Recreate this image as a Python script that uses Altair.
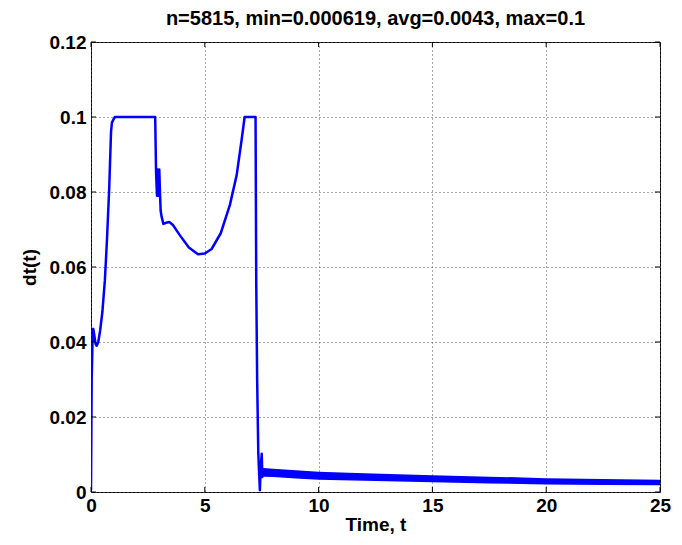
import altair as alt
import pandas as pd

# ---- data ----
t_main = [0.0, 0.03, 0.07, 0.10, 0.14, 0.20, 0.25, 0.32, 0.40, 0.50, 0.61, 0.70, 0.80, 0.88, 0.92, 1.00, 1.05,
          2.82, 2.86, 2.90, 2.93, 2.96, 3.00, 3.03, 3.06, 3.10, 3.18, 3.30, 3.44, 3.60, 3.90, 4.30, 4.70,
          5.00, 5.30, 5.70, 6.10, 6.40, 6.62, 6.75,
          7.23, 7.26, 7.30, 7.35, 7.38, 7.42, 7.45, 7.50, 7.53, 7.56]
dt_main = [0.0005, 0.030, 0.041, 0.0435, 0.042, 0.0395, 0.039, 0.040, 0.043, 0.048, 0.0565, 0.067, 0.081, 0.096, 0.0985, 0.0995, 0.100,
           0.100, 0.085, 0.079, 0.086, 0.079, 0.086, 0.080, 0.075, 0.0735, 0.0715, 0.0718, 0.072, 0.0712, 0.0685, 0.0652, 0.0634,
           0.0636, 0.0648, 0.069, 0.0765, 0.0845, 0.094, 0.100,
           0.100, 0.056, 0.030, 0.0104, 0.006, 0.0005, 0.006, 0.0102, 0.004, 0.0062]

tail_t = [7.56, 8.0, 9.0, 10.0, 12.0, 15.0, 17.5, 20.0, 22.5, 25.0]
tail_hi = [0.0064, 0.0062, 0.0058, 0.0054, 0.0050, 0.0045, 0.0041, 0.0037, 0.0035, 0.0033]
tail_lo = [0.0041, 0.0040, 0.0036, 0.0033, 0.0030, 0.0026, 0.0023, 0.0020, 0.0019, 0.0018]

x_ticks = [0, 5, 10, 15, 20, 25]
y_ticks = [0, 0.02, 0.04, 0.06, 0.08, 0.10, 0.12]

title_text = "n=5815, min=0.000619, avg=0.0043, max=0.1"
x_title = "Time, t"
y_title = "dt(t)"

# ---- chart ----
W, H = 569, 450
FONT = "Liberation Sans"
BLUE = "#0000ff"
TICK = 5

main_df = pd.DataFrame({"t": t_main, "dt": dt_main})
tail_df = pd.DataFrame({"t": tail_t, "hi": tail_hi, "lo": tail_lo})
xt_df = pd.DataFrame({"v": x_ticks})
yt_df = pd.DataFrame({"v": y_ticks})

xscale = alt.Scale(domain=[0, 25], nice=False, zero=False)
yscale = alt.Scale(domain=[0, 0.12], nice=False, zero=False)

xaxis = alt.Axis(values=x_ticks, format="d", title=x_title, grid=True, gridDash=[1, 3],
                 gridColor="#555555", gridWidth=1, ticks=False, domain=False,
                 labelFlush=False, labelPadding=4, titlePadding=0)
yaxis = alt.Axis(values=y_ticks, format=".2~f", title=y_title, grid=True, gridDash=[1, 3],
                 gridColor="#555555", gridWidth=1, ticks=False, domain=False,
                 labelFlush=False, labelPadding=5, titlePadding=10)

line = alt.Chart(main_df).mark_line(color=BLUE, strokeWidth=2.5, clip=True, strokeJoin="round").encode(
    x=alt.X("t:Q", scale=xscale, axis=xaxis),
    y=alt.Y("dt:Q", scale=yscale, axis=yaxis),
    order="t:Q",
)

tail = alt.Chart(tail_df).mark_area(color=BLUE, opacity=1, clip=True).encode(
    x=alt.X("t:Q", scale=xscale),
    y=alt.Y("hi:Q", scale=yscale),
    y2="lo:Q",
)

bot_ticks = alt.Chart(xt_df).mark_rule(color="black", strokeWidth=1).encode(
    x=alt.X("v:Q", scale=xscale), y=alt.value(H), y2=alt.value(H - TICK))
top_ticks = alt.Chart(xt_df).mark_rule(color="black", strokeWidth=1).encode(
    x=alt.X("v:Q", scale=xscale), y=alt.value(0), y2=alt.value(TICK))
left_ticks = alt.Chart(yt_df).mark_rule(color="black", strokeWidth=1).encode(
    y=alt.Y("v:Q", scale=yscale), x=alt.value(0), x2=alt.value(TICK))
right_ticks = alt.Chart(yt_df).mark_rule(color="black", strokeWidth=1).encode(
    y=alt.Y("v:Q", scale=yscale), x=alt.value(W - TICK), x2=alt.value(W))

chart = alt.layer(line, tail, bot_ticks, top_ticks, left_ticks, right_ticks).properties(
    width=W, height=H,
    title=alt.TitleParams(title_text, font=FONT, fontSize=20, fontWeight="bold",
                          anchor="middle", offset=4, color="black"),
    autosize=alt.AutoSizeParams(type="none"),
    padding={"left": 83, "top": 34, "right": 14, "bottom": 45},
    background="white",
).configure_view(
    stroke="black", strokeWidth=1,
).configure_axis(
    labelFont=FONT, labelFontSize=19, labelFontWeight="bold", labelColor="black",
    titleFont=FONT, titleFontSize=19, titleFontWeight="bold", titleColor="black",
)

chart.save("out.html", embed_options={"renderer": "svg", "actions": False})
